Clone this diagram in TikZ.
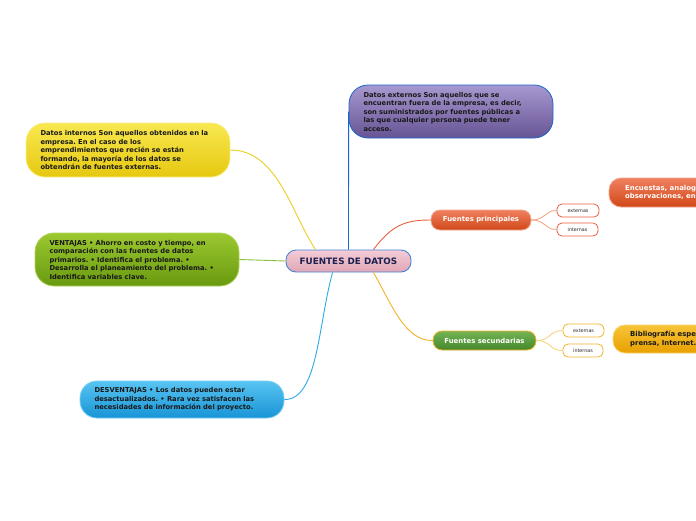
\documentclass[tikz,border=0pt]{standalone}
\usepackage{fontspec}
\setmainfont{DejaVu Sans}
\frenchspacing
\definecolor{purT}{HTML}{A898D0}\definecolor{purB}{HTML}{665494}
\definecolor{yelT}{HTML}{F8E850}\definecolor{yelB}{HTML}{E6C810}
\definecolor{grnT}{HTML}{9CC830}\definecolor{grnB}{HTML}{689A10}
\definecolor{bluT}{HTML}{58C4F2}\definecolor{bluB}{HTML}{1894D6}
\definecolor{orT}{HTML}{F08060}\definecolor{orB}{HTML}{D04818}
\definecolor{gsT}{HTML}{74B454}\definecolor{gsB}{HTML}{44862C}
\definecolor{goT}{HTML}{F8C438}\definecolor{goB}{HTML}{E8A000}
\definecolor{pkT}{HTML}{F4CCD6}\definecolor{pkB}{HTML}{E0A6B6}
\definecolor{lnBlue}{HTML}{1A66CC}\definecolor{lnYel}{HTML}{E8D020}
\definecolor{lnGrn}{HTML}{8CC040}\definecolor{lnSky}{HTML}{30A8E8}
\definecolor{lnOr}{HTML}{E86040}\definecolor{lnGo}{HTML}{F2B428}
\definecolor{lnOrL}{HTML}{F4A888}\definecolor{lnGoL}{HTML}{F8D680}
\definecolor{navy}{HTML}{1A2050}
\begin{document}
\begin{tikzpicture}[x=1pt,y=-1pt,
  txt/.style={font=\bfseries\fontsize{6.75}{8.5}\selectfont},
  bigbox/.style={txt, draw, line width=0.8pt, rounded corners=19pt, align=left,
     inner xsep=14.5pt, inner ysep=0pt, text width=175pt, minimum width=204pt, text=black!90},
  midbox/.style={draw, line width=0.8pt, rounded corners=9pt, inner sep=0pt,
     font=\bfseries\fontsize{6.9}{8}\selectfont, text=white},
  smallbox/.style={draw, fill=white, line width=0.8pt, rounded corners=5pt, inner sep=0pt,
     font=\fontsize{4.8}{5}\selectfont, text=black!85},
  conn/.style={line width=0.9pt}
]
\clip (0,0) rectangle (696,520);
\useasboundingbox (0,0) rectangle (696,520);
\fill[white] (0,0) rectangle (696,520);

% nodes
\node[bigbox, top color=purT, bottom color=purB, draw=lnBlue, minimum height=53pt] (p) at (451,111.5)
 {Datos externos Son aquellos que se\\encuentran fuera de la empresa, es decir,\\son suministrados por fuentes públicas a\\las que cualquier persona puede tener\\acceso.};
\node[bigbox, top color=yelT, bottom color=yelB, draw=yelT!70!white, minimum height=54pt] (y) at (128,150)
 {Datos internos Son aquellos obtenidos en la\\empresa. En el caso de los\\emprendimientos que recién se están\\formando, la mayoría de los datos se\\obtendrán de fuentes externas.};
\node[bigbox, top color=grnT, bottom color=grnB, draw=grnT!80!white, minimum height=53pt] (g) at (137,259.5)
 {VENTAJAS • Ahorro en costo y tiempo, en\\comparación con las fuentes de datos\\primarios. • Identifica el problema. •\\Desarrolla el planeamiento del problema. •\\Identifica variables clave.};
\node[bigbox, top color=bluT, bottom color=bluB, draw=bluT!80!white, minimum height=37pt, rounded corners=17pt] (b) at (182,399.5)
 {DESVENTAJAS • Los datos pueden estar\\desactualizados. • Rara vez satisfacen las\\necesidades de información del proyecto.};

\node[draw=lnBlue!80, line width=0.9pt, top color=pkT, bottom color=pkB, rounded corners=10pt,
  minimum width=125pt, minimum height=22pt, inner sep=0pt, text=navy,
  font=\bfseries\fontsize{8.8}{10}\selectfont] (c) at (348.5,261) {FUENTES DE DATOS};

\node[midbox, top color=orT, bottom color=orB, draw=orT!70!white, minimum width=100pt, minimum height=20pt] (fp) at (481,220) {Fuentes principales};
\node[midbox, top color=gsT, bottom color=gsB, draw=lnGo, minimum width=103pt, minimum height=19pt] (fs) at (484.5,340.5) {Fuentes secundarias};

\node[smallbox, draw=lnOr, minimum width=42pt, minimum height=13pt] (e1) at (578,210.5) {externas};
\node[smallbox, draw=lnOr, minimum width=41pt, minimum height=13pt] (i1) at (577.5,229.5) {internas};
\node[smallbox, draw=lnGo, minimum width=41pt, minimum height=13pt] (e2) at (583.5,330.5) {externas};
\node[smallbox, draw=lnGo, minimum width=40pt, minimum height=13pt] (i2) at (583,350.5) {internas};

\node[draw=orT!70!white, line width=0.8pt, top color=orT, bottom color=orB, rounded corners=12pt,
  minimum width=151pt, minimum height=29pt, inner sep=0pt] (en) at (684.5,192.5) {};
\node[anchor=west, align=left, inner sep=0pt, text=white, font=\bfseries\fontsize{6.9}{8.6}\selectfont] (ent) at (625,192.5)
 {Encuestas, analog\\observaciones, en};
\node[draw=goT!70!white, line width=0.8pt, top color=goT, bottom color=goB, rounded corners=12pt,
  minimum width=147pt, minimum height=28pt, inner sep=0pt] (bi) at (686.5,339) {};
\node[anchor=west, align=left, inner sep=0pt, text=black!90, font=\bfseries\fontsize{6.9}{8.6}\selectfont] (bit) at (630,339)
 {Bibliografía espe\\prensa, Internet.};

% connectors
\draw[conn, lnBlue] (c.north) -- (p.west);
\draw[conn, lnYel] ([xshift=30pt]c.north west) .. controls (292,215) and (278,150) .. (y.east);
\draw[conn, lnGrn] (c.west) -- (g.east);
\draw[conn, lnSky] ([xshift=47pt]c.south west) .. controls (318,325) and (318,400) .. (b.east);
\draw[conn, lnOr] ([xshift=-38pt]c.north east) .. controls (392,225) and (405,220) .. (fp.west);
\draw[conn, lnGo] ([xshift=-38pt]c.south east) .. controls (392,305) and (405,341) .. (fs.west);
\draw[conn, lnOrL] (fp.east) .. controls (546,220) and (544,210.5) .. (e1.west);
\draw[conn, lnOrL] (fp.east) .. controls (546,220) and (544,229.5) .. (i1.west);
\draw[conn, lnGoL] (fs.east) .. controls (551,340.5) and (549,330.5) .. (e2.west);
\draw[conn, lnGoL] (fs.east) .. controls (551,340.5) and (549,350.5) .. (i2.west);
\end{tikzpicture}
\end{document}
